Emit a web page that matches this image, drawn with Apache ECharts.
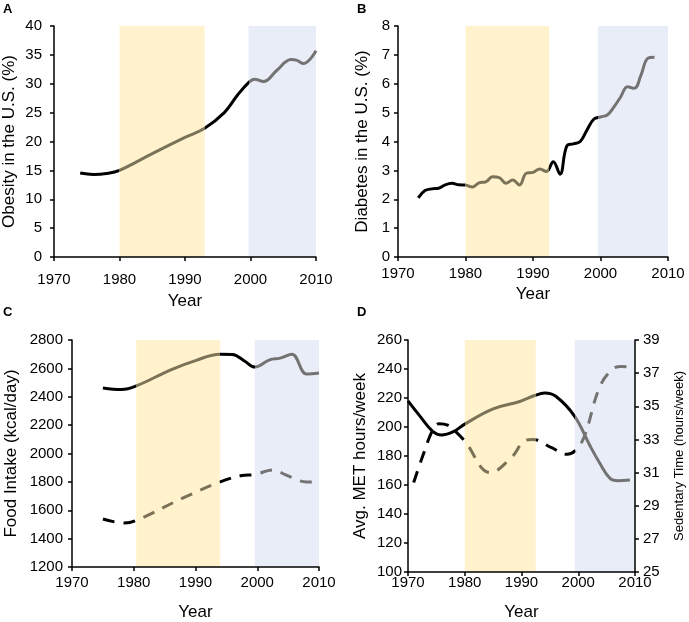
<!DOCTYPE html>
<html>
<head>
<meta charset="utf-8">
<script src="https://cdn.jsdelivr.net/npm/echarts@6/dist/echarts.min.js"></script>
<style>
html,body{margin:0;padding:0;background:#fff;}
#main{width:689px;height:622px;}
</style>
</head>
<body>
<div id="main"></div>
<script>
// ---------- data ----------
const xTicks = [1970, 1980, 1990, 2000, 2010];

// A: obesity
const obesityYears = [1974, 1976, 1978, 1980, 1985, 1990, 1993, 1996, 1998, 1999.7, 2000.6, 2002, 2004, 2006.2, 2007, 2008.1, 2010];
const obesityVals  = [14.55, 14.3, 14.45, 15.0, 17.9, 20.7, 22.3, 25.0, 28.0, 30.2, 30.8, 30.4, 32.3, 34.2, 34.1, 33.5, 35.7];

// B: diabetes
const diabetesYears = [1973,1974,1975,1976,1977,1978,1979,1980,1981,1982,1983,1984,1985,1986,1987,1988,1989,1990,1991,1992,1993,1994,1995,1996,1997,1998,1999,2000,2001,2002,2003,2004,2005,2006,2007,2008];
const diabetesVals  = [2.05,2.3,2.36,2.38,2.5,2.55,2.5,2.49,2.42,2.57,2.6,2.78,2.75,2.55,2.67,2.49,2.9,2.93,3.05,2.96,3.3,2.87,3.84,3.92,4.0,4.4,4.77,4.85,4.92,5.2,5.55,5.9,5.84,6.3,6.88,6.92];

// C: food intake (solid and dashed)
const intakeYearsA = [1975, 1978, 1980.5, 1986, 1990, 1994, 1996, 1998, 1999.6, 2002, 2003.7, 2005.6, 2008, 2010];
const intakeValsA  = [2462, 2451, 2478, 2590, 2655, 2700, 2698, 2650, 2609, 2660, 2672, 2700, 2560, 2567];
const intakeYearsB = [1975, 1978.5, 1980.5, 1988, 1994, 1997.5, 1999.6, 2002.5, 2004.6, 2006.7, 2008, 2010];
const intakeValsB  = [1538, 1510, 1530, 1687, 1800, 1845, 1852, 1883, 1850, 1810, 1800, 1800];

// D: MET hours (left) and sedentary time (right)
const metYears = [1970, 1972, 1974.4, 1975.9, 1978, 1980, 1985, 1989.7, 1992.3, 1994.1, 1996.1, 1999.4, 2002, 2003.8, 2005.6, 2007, 2009.1];
const metVals  = [218, 208, 196.8, 194.5, 196.8, 202, 212.5, 217.6, 221.7, 223.4, 221, 207.2, 187.6, 175, 164.6, 163, 163.4];
const sedYears = [1971, 1972.7, 1974.4, 1975.5, 1977, 1978.3, 1980, 1984.5, 1988.2, 1990.5, 1992, 1995.3, 1998, 1999.7, 2001.2, 2003.7, 2005.9, 2007.6, 2009.6];
const sedVals  = [30.4, 32.1, 33.6, 33.95, 33.86, 33.5, 32.9, 31.0, 31.9, 32.9, 33.0, 32.5, 32.1, 32.4, 33.3, 36.1, 37.2, 37.4, 37.35];

// shaded periods per panel [start, end]
const periodsA = [[1980, 1993], [1999.7, 2010]];
const periodsB = [[1980, 1992.4], [1999.6, 2010]];
const periodsC = [[1980.4, 1994], [1999.6, 2010]];
const periodsD = [[1980, 1992.5], [1999.4, 2010]];

const panelLetters = ['A', 'B', 'C', 'D'];

// ---------- styles ----------
const FONT = 'Liberation Sans, Arial, Helvetica, sans-serif';
const YELLOW = '#FFF2CC';
const BLUE = '#E9EDF7';
const BLACK = '#000000';
const OLIVE = '#7A7357';
const GRAY = '#737373';

function zip(xs, ys) { return xs.map((x, i) => [x, ys[i]]); }

function markAreaFor(periods) {
  return {
    silent: true,
    data: [
      [{ xAxis: periods[0][0], itemStyle: { color: YELLOW } }, { xAxis: periods[0][1] }],
      [{ xAxis: periods[1][0], itemStyle: { color: BLUE } }, { xAxis: periods[1][1] }]
    ]
  };
}

function vmFor(periods, seriesIdx) {
  return {
    type: 'piecewise', show: false, dimension: 0, seriesIndex: seriesIdx,
    pieces: [
      { lt: periods[0][0], color: BLACK },
      { gte: periods[0][0], lte: periods[0][1], color: OLIVE },
      { gt: periods[0][1], lt: periods[1][0], color: BLACK },
      { gte: periods[1][0], color: GRAY }
    ]
  };
}

const axisLineStyle = { show: true, lineStyle: { color: '#000', width: 1.5 } };
const tickStyle = { show: true, length: 4, inside: false, lineStyle: { color: '#000', width: 1.5 } };
const plain = v => String(v);

function xAxisFor(gi, margin, nameGap) {
  return {
    type: 'value', gridIndex: gi, min: 1970, max: 2010, interval: 10, z: 10,
    axisLine: axisLineStyle, axisTick: tickStyle, splitLine: { show: false },
    axisLabel: { fontSize: 15, color: '#000', margin: margin, fontFamily: FONT, formatter: plain },
    name: 'Year', nameLocation: 'middle', nameGap: nameGap,
    nameTextStyle: { fontSize: 17, color: '#000', fontFamily: FONT }
  };
}
function yAxisFor(gi, min, max, interval, name, margin, nameGap, pos, nameSize) {
  return {
    type: 'value', gridIndex: gi, min: min, max: max, interval: interval, position: pos || 'left', z: 10,
    axisLine: axisLineStyle, axisTick: tickStyle, splitLine: { show: false },
    axisLabel: { fontSize: 15, color: '#000', margin: margin, fontFamily: FONT, formatter: plain },
    name: name, nameLocation: 'middle', nameGap: nameGap,
    nameTextStyle: { fontSize: nameSize || 17, color: '#000', fontFamily: FONT }
  };
}

const solid = { width: 3, type: 'solid', cap: 'butt' };
const dashed = { width: 3, type: [12, 9], cap: 'butt' };

const option = {
  animation: false,
  backgroundColor: '#fff',
  textStyle: { fontFamily: FONT },
  graphic: [
    { type: 'text', left: 3, top: 3, style: { text: panelLetters[0], font: 'bold 13px ' + FONT, fill: '#000' } },
    { type: 'text', left: 357, top: 3, style: { text: panelLetters[1], font: 'bold 13px ' + FONT, fill: '#000' } },
    { type: 'text', left: 3, top: 306, style: { text: panelLetters[2], font: 'bold 13px ' + FONT, fill: '#000' } },
    { type: 'text', left: 357, top: 306, style: { text: panelLetters[3], font: 'bold 13px ' + FONT, fill: '#000' } }
  ],
  grid: [
    { left: 53, top: 26, width: 263, height: 231 },
    { left: 398, top: 26, width: 270, height: 231 },
    { left: 72, top: 340, width: 247, height: 229 },
    { left: 408, top: 340, width: 227, height: 232 }
  ],
  xAxis: [
    xAxisFor(0, 15, 36),
    xAxisFor(1, 9, 29),
    xAxisFor(2, 8, 37),
    xAxisFor(3, 3, 32)
  ],
  yAxis: [
    yAxisFor(0, 0, 40, 5, 'Obesity in the U.S. (%)', 12, 36),
    yAxisFor(1, 0, 8, 1, 'Diabetes in the U.S. (%)', 8, 27),
    yAxisFor(2, 1200, 2800, 200, 'Food Intake (kcal/day)', 9, 52),
    yAxisFor(3, 100, 260, 20, 'Avg. MET hours/week', 6, 39),
    yAxisFor(3, 25, 39, 2, 'Sedentary Time (hours/week)', 8, 38, 'right', 13)
  ],
  visualMap: [
    vmFor(periodsA, [0]),
    vmFor(periodsB, [1]),
    vmFor(periodsC, [2, 3]),
    vmFor(periodsD, [4, 5])
  ],
  series: [
    { type: 'line', xAxisIndex: 0, yAxisIndex: 0, data: zip(obesityYears, obesityVals), smooth: 0.4, showSymbol: false, lineStyle: solid, z: 3, markArea: markAreaFor(periodsA) },
    { type: 'line', xAxisIndex: 1, yAxisIndex: 1, data: zip(diabetesYears, diabetesVals), smooth: 0.4, showSymbol: false, lineStyle: solid, z: 3, markArea: markAreaFor(periodsB) },
    { type: 'line', xAxisIndex: 2, yAxisIndex: 2, data: zip(intakeYearsA, intakeValsA), smooth: 0.4, showSymbol: false, lineStyle: solid, z: 3, markArea: markAreaFor(periodsC) },
    { type: 'line', xAxisIndex: 2, yAxisIndex: 2, data: zip(intakeYearsB, intakeValsB), smooth: 0.4, showSymbol: false, lineStyle: dashed, z: 3 },
    { type: 'line', xAxisIndex: 3, yAxisIndex: 3, data: zip(metYears, metVals), smooth: 0.4, showSymbol: false, lineStyle: solid, z: 3, markArea: markAreaFor(periodsD) },
    { type: 'line', xAxisIndex: 3, yAxisIndex: 4, data: zip(sedYears, sedVals), smooth: 0.4, showSymbol: false, lineStyle: dashed, z: 3 }
  ]
};

const chart = echarts.init(document.getElementById('main'), null, { renderer: 'canvas' });
chart.setOption(option);
</script>
</body>
</html>
